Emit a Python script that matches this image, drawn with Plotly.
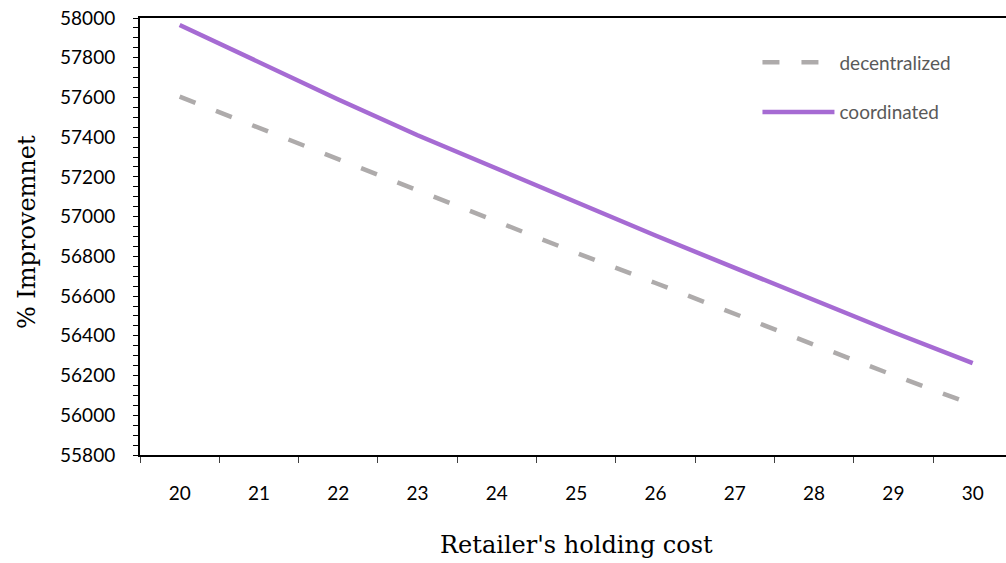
import plotly.graph_objects as go

categories = ["20", "21", "22", "23", "24", "25", "26", "27", "28", "29", "30"]
decentralized = [57604, 57447, 57292, 57134, 56973, 56818, 56666, 56509, 56355, 56202, 56054]
coordinated = [57965, 57775, 57590, 57410, 57240, 57070, 56905, 56742, 56580, 56418, 56263]

fig = go.Figure()
fig.add_trace(go.Scatter(
    x=categories, y=decentralized, mode="lines", name="decentralized",
    legendgroup="a",
    line=dict(color="#AEABAB", width=4.5, dash="17px,22px"),
))
fig.add_trace(go.Scatter(
    x=categories, y=coordinated, mode="lines", name="coordinated",
    legendgroup="b",
    line=dict(color="#A66BD3", width=4.5),
))

tick_font = dict(family="Lato, 'Open Sans', sans-serif", size=19, color="#000000")
title_font = dict(family="'DejaVu Serif', serif", size=24, color="#000000")

fig.update_layout(
    width=1006, height=563,
    margin=dict(l=140, r=0, t=18, b=108, autoexpand=False),
    paper_bgcolor="white", plot_bgcolor="white",
    showlegend=True,
    legend=dict(
        x=0.713, y=0.942, xanchor="left", yanchor="top",
        font=dict(family="Lato, 'Open Sans', sans-serif", size=19, color="#595959"),
        bgcolor="rgba(0,0,0,0)", itemwidth=72, tracegroupgap=22,
    ),
    xaxis=dict(
        type="category", range=[-0.5, 10.42], automargin=False,
        showline=True, linecolor="#000000", linewidth=2, mirror=True,
        ticks="outside", ticklen=6, tickcolor="#404040", tickwidth=1,
        tickson="boundaries", showgrid=False, zeroline=False,
        tickfont=tick_font, ticklabelstandoff=20, ticklabeloverflow="allow",
    ),
    yaxis=dict(
        range=[55800, 58000], dtick=200, tick0=55800, tickformat="d",
        automargin=False, ticklabeloverflow="allow",
        showline=True, linecolor="#000000", linewidth=2,
        ticks="outside", ticklen=5, tickcolor="#000000", tickwidth=1,
        minor=dict(dtick=50, ticks="outside", ticklen=5, tickcolor="#000000", tickwidth=1, showgrid=False),
        showgrid=False, zeroline=False,
        tickfont=tick_font, ticklabelstandoff=14,
    ),
    annotations=[
        dict(text="Retailer's holding cost", xref="paper", yref="paper",
             x=0.5035, y=-0.206, xanchor="center", yanchor="middle",
             showarrow=False, font=title_font),
        dict(text="% Improvemnet", xref="paper", yref="paper",
             x=-0.1305, y=0.51, xanchor="center", yanchor="middle",
             textangle=-90, showarrow=False, font=title_font),
    ],
)

fig.write_html(
    "out.html",
    config={"displayModeBar": False},
    post_script="document.body.style.margin='0';document.body.style.overflow='hidden';",
)
